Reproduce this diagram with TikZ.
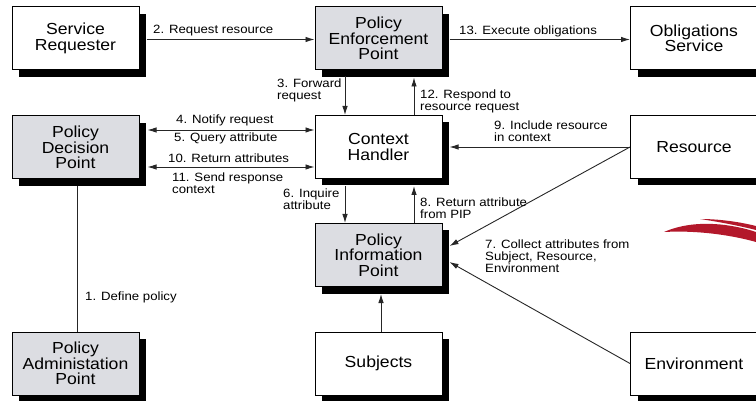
\documentclass[tikz,border=0pt]{standalone}
\usepackage{fontspec}
\setmainfont{Liberation Sans}[FakeStretch=1.1]
\usetikzlibrary{arrows.meta,calc,shadows}

\definecolor{boxgray}{HTML}{DCDDE2}
\definecolor{linegray}{HTML}{262626}
\definecolor{swoosh}{HTML}{B3182B}

\tikzset{
  box/.style={draw=black, line width=1pt, minimum width=127pt, minimum height=63pt,
    inner sep=0pt, align=center, font=\fontsize{16}{15.5}\selectfont,
    drop shadow={shadow xshift=7pt, shadow yshift=-7pt, fill=black, opacity=1}},
  whitebox/.style={box, fill=white},
  graybox/.style={box, fill=boxgray},
  tip/.tip={Latex[length=9pt,width=5.5pt]},
  flow/.style={draw=linegray, line width=0.9pt, -tip},
  dflow/.style={draw=linegray, line width=0.9pt, tip-tip},
  plain/.style={draw=linegray, line width=0.9pt},
  lbl/.style={anchor=west, inner sep=0pt, align=left, font=\fontsize{12}{12}\selectfont},
}

\begin{document}
\begin{tikzpicture}[x=1pt, y=-1pt]
\useasboundingbox (0,0) rectangle (756,401);

% components
\node[whitebox] (sr)  at (75.5,38.5)  {Service\\Requester};
\node[graybox]  (pep) at (378.5,38.5) {Policy\\Enforcement\\Point};
\node[whitebox] (obl) at (694,38.5)   {Obligations\\Service};
\node[graybox]  (pdp) at (75.5,147.5) {Policy\\Decision\\Point};
\node[whitebox] (ch)  at (378.5,147)  {Context\\Handler};
\node[whitebox] (res) at (694,147)    {Resource};
\node[graybox]  (pip) at (378.5,255)  {Policy\\Information\\Point};
\node[graybox]  (pap) at (75.5,363.5) {Policy\\Administation\\Point};
\node[whitebox] (sub) at (378.5,363.5){Subjects};
\node[whitebox] (env) at (694,363.5)  {Environment};

% message flows
\draw[flow] ($(sr.east)+(7,1)$) -- ($(pep.west)+(0,1)$);
\draw[flow] ($(pep.east)+(7,1)$) -- ($(obl.west)+(0,1)$);
\draw[flow] ($(pep.south)+(-33.5,6)$) -- ($(ch.north)+(-33.5,0)$);
\draw[flow] ($(ch.north)+(35.5,0)$) -- ($(pep.south)+(35.5,7)$);
\draw[dflow] ($(pdp.east)+(8,-17.5)$) -- ($(ch.west)+(0,-17)$);
\draw[dflow] ($(pdp.east)+(8,19.5)$) -- ($(ch.west)+(0,20)$);
\draw[flow] ($(ch.south)+(-33.5,7)$) -- ($(pip.north)+(-33.5,0)$);
\draw[flow] ($(pip.north)+(35.5,0)$) -- ($(ch.south)+(35.5,7)$);
\draw[flow] (res.west) -- ($(ch.east)+(7,0)$);
\draw[flow] (res.west) -- ($(pip.east)+(7,-9)$);
\draw[flow] (env.west) -- ($(pip.east)+(7,7)$);
\draw[flow] ($(sub.north)+(2.5,0)$) -- ($(pip.south)+(2.5,7)$);
\draw[plain] ($(pdp.south)+(1.5,7)$) -- ($(pap.north)+(1.5,0)$);

% step labels
\node[lbl] (l2)  at (153,31)    {2. Request resource};
\node[lbl] (l13) at (459,31)    {13. Execute obligations};
\node[lbl] (l3)  at (277,90)    {3. Forward\\request};
\node[lbl] (l12) at (420,101)   {12. Respond to\\resource request};
\node[lbl] (l4)  at (176,120)   {4. Notify request};
\node[lbl] (l5)  at (174,138)   {5. Query attribute};
\node[lbl] (l10) at (168,158)   {10. Return attributes};
\node[lbl] (l11) at (172,183.5) {11. Send response\\context};
\node[lbl] (l6)  at (283,199.5) {6. Inquire\\attribute};
\node[lbl] (l8)  at (420,208)   {8. Return attribute\\from PIP};
\node[lbl] (l9)  at (494,131)   {9. Include resource\\in context};
\node[lbl] (l7)  at (485,256)   {7. Collect attributes from\\Subject, Resource,\\Environment};
\node[lbl] (l1)  at (85,297)    {1. Define policy};

% red brush stroke
\fill[swoosh] (664,232) .. controls (680,225) and (700,222) .. (725,225)
  .. controls (740,227) and (750,230) .. (756,232) -- (756,242)
  .. controls (735,236) and (700,230) .. (664,232) -- cycle;
\fill[swoosh] (700,219) .. controls (720,219) and (740,222) .. (756,226) -- (756,230)
  .. controls (740,226) and (720,222) .. (700,219) -- cycle;
\end{tikzpicture}
\end{document}
